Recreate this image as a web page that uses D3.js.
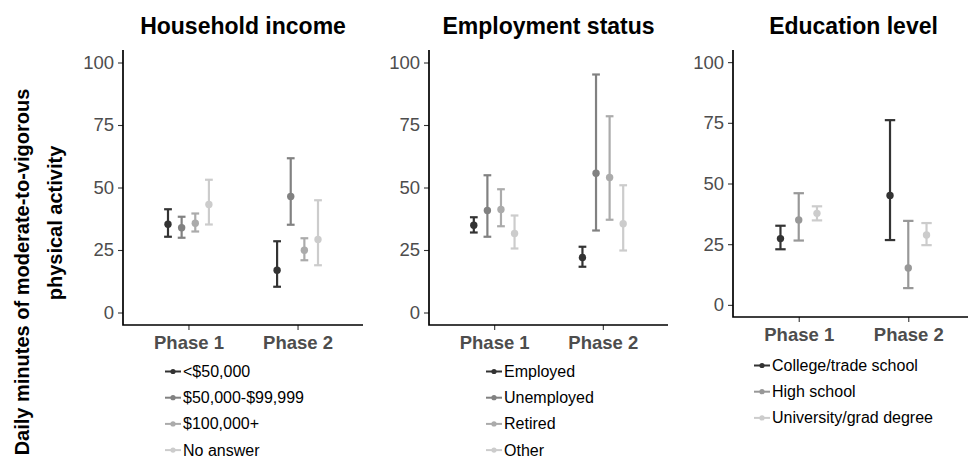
<!DOCTYPE html>
<meta charset="utf-8">
<style>
body { margin: 0; background: #fff; }
svg { font-family: "Liberation Sans", Arial, Helvetica, sans-serif; display: block; }
.title { font-weight: bold; font-size: 23px; fill: #000; }
.ylab { font-weight: bold; font-size: 20px; fill: #000; }
.axis text { font-size: 18.5px; fill: #4d4d4d; }
.xaxis text { font-weight: bold; }
.legend text { font-size: 16px; fill: #000; }
</style>
<body>
<script src="https://cdn.jsdelivr.net/npm/d3@7"></script>
<script>
'use strict';

// ---- data ----
const phases = ["Phase 1", "Phase 2"];
const yTicks = [0, 25, 50, 75, 100];

const incomeGroups = ["<$50,000", "$50,000-$99,999", "$100,000+", "No answer"];
const incomeMean  = [[35.3, 16.9], [33.9, 46.4], [35.7, 24.9], [43.2, 29.2]];
const incomeLower = [[30.3, 10.3], [29.9, 35.1], [32.4, 20.9], [35.2, 18.9]];
const incomeUpper = [[41.3, 28.5], [38.3, 61.7], [39.6, 29.7], [53.1, 44.9]];

const employGroups = ["Employed", "Unemployed", "Retired", "Other"];
const employMean  = [[34.9, 22.0], [40.8, 55.7], [41.2, 54.0], [31.6, 35.5]];
const employLower = [[32.0, 18.3], [30.3, 32.8], [34.5, 37.1], [25.6, 24.8]];
const employUpper = [[38.1, 26.3], [54.9, 95.2], [49.3, 78.5], [38.8, 50.9]];

const eduGroups = ["College/trade school", "High school", "University/grad degree"];
const eduMean  = [[27.3, 45.1], [35.0, 15.2], [37.7, 28.8]];
const eduLower = [[22.9, 26.7], [26.5, 6.9], [34.8, 24.6]];
const eduUpper = [[32.6, 76.1], [46.0, 34.6], [40.6, 33.7]];

const grey4 = ["#333333", "#818181", "#ababab", "#cccccc"];
const grey3 = ["#333333", "#989898", "#cccccc"];

// ---- layout ----
const W = 968, H = 458;
const svg = d3.select("body").append("svg").attr("width", W).attr("height", H);

const panels = [
  {title: "Household income", groups: incomeGroups, mean: incomeMean, lo: incomeLower, hi: incomeUpper,
   colors: grey4, left: 123, right: 363, top: 50, bottom: 325, keyX: 165, legY: 377},
  {title: "Employment status", groups: employGroups, mean: employMean, lo: employLower, hi: employUpper,
   colors: grey4, left: 429, right: 668, top: 50, bottom: 325, keyX: 486, legY: 377},
  {title: "Education level", groups: eduGroups, mean: eduMean, lo: eduLower, hi: eduUpper,
   colors: grey3, left: 733, right: 974, top: 50, bottom: 317, keyX: 754, legY: 371}
];

panels.forEach(function(p) {
  const x = d3.scalePoint().domain(phases).range([p.left, p.right]).padding(0.6);
  const y = d3.scaleLinear().domain([-5, 105]).range([p.bottom, p.top]);
  const dodge = d3.scaleBand().domain(p.groups)
      .range([-x.step() * 0.25, x.step() * 0.25]);
  const color = d3.scaleOrdinal().domain(p.groups).range(p.colors);
  const capW = dodge.bandwidth() * 0.57;

  const g = svg.append("g");

  // title
  g.append("text").attr("class", "title")
    .attr("x", (p.left + p.right) / 2).attr("y", 34)
    .attr("text-anchor", "middle").text(p.title);

  // y axis
  const ya = g.append("g").attr("class", "axis")
    .attr("transform", "translate(" + p.left + ",0)")
    .call(d3.axisLeft(y).tickValues(yTicks).tickSize(5).tickPadding(4));
  ya.select(".domain").remove();
  ya.selectAll(".tick line").attr("stroke", "#333").attr("stroke-width", 1.1);

  // x axis
  const xa = g.append("g").attr("class", "axis xaxis")
    .attr("transform", "translate(0," + p.bottom + ")")
    .call(d3.axisBottom(x).tickSize(5).tickPadding(6));
  xa.select(".domain").remove();
  xa.selectAll(".tick line").attr("stroke", "#333").attr("stroke-width", 1.1);

  // axis lines
  g.append("path")
    .attr("d", "M" + p.left + "," + p.top + "V" + p.bottom + "H" + p.right)
    .attr("fill", "none").attr("stroke", "#000").attr("stroke-width", 1.7);

  // rows
  const rows = [];
  p.groups.forEach(function(grp, gi) {
    phases.forEach(function(ph, pi) {
      rows.push({group: grp, phase: ph, mean: p.mean[gi][pi], lo: p.lo[gi][pi], hi: p.hi[gi][pi]});
    });
  });
  const cx = d => x(d.phase) + dodge(d.group) + dodge.bandwidth() / 2;

  const eb = g.selectAll(".eb").data(rows).enter().append("g")
    .attr("stroke", d => color(d.group)).attr("stroke-width", 2.2).attr("fill", "none");
  eb.append("line").attr("x1", cx).attr("x2", cx).attr("y1", d => y(d.lo)).attr("y2", d => y(d.hi));
  eb.append("line").attr("x1", d => cx(d) - capW / 2).attr("x2", d => cx(d) + capW / 2)
    .attr("y1", d => y(d.hi)).attr("y2", d => y(d.hi));
  eb.append("line").attr("x1", d => cx(d) - capW / 2).attr("x2", d => cx(d) + capW / 2)
    .attr("y1", d => y(d.lo)).attr("y2", d => y(d.lo));
  g.selectAll(".pt").data(rows).enter().append("circle")
    .attr("cx", cx).attr("cy", d => y(d.mean)).attr("r", 3.7)
    .attr("fill", d => color(d.group));

  // legend
  const leg = g.append("g").attr("class", "legend");
  const item = leg.selectAll("g").data(p.groups).enter().append("g")
    .attr("transform", (d, i) => "translate(" + p.keyX + "," + (p.legY + i * 26.2) + ")");
  item.append("line").attr("x1", 0).attr("x2", 16).attr("y1", -5.5).attr("y2", -5.5)
    .attr("stroke", d => color(d)).attr("stroke-width", 2);
  item.append("circle").attr("cx", 8).attr("cy", -5.5).attr("r", 2.6).attr("fill", d => color(d));
  item.append("text").attr("x", 18).attr("y", 0).text(d => d);
});

// shared y label
svg.append("text").attr("class", "ylab")
  .attr("transform", "translate(29,272) rotate(-90)")
  .attr("text-anchor", "middle").text("Daily minutes of moderate-to-vigorous");
svg.append("text").attr("class", "ylab")
  .attr("transform", "translate(62,223) rotate(-90)")
  .attr("text-anchor", "middle").text("physical activity");
</script>
</body>
